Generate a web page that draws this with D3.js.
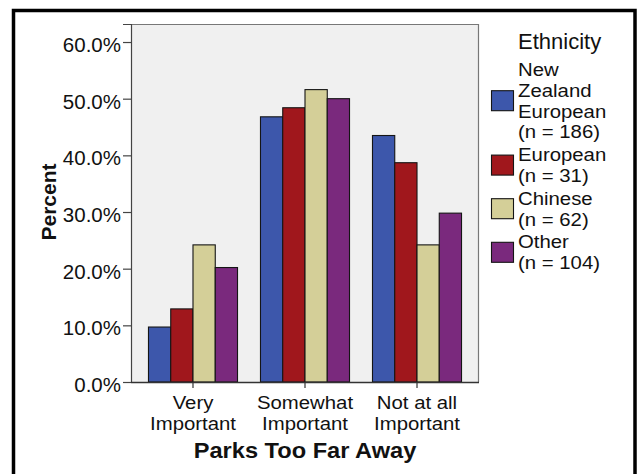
<!DOCTYPE html>
<html>
<head>
<meta charset="utf-8">
<script src="https://cdn.jsdelivr.net/npm/d3@7"></script>
<style>
  html, body { margin: 0; padding: 0; background: #fff; }
  svg { display: block; font-family: "Liberation Sans", Arial, sans-serif; }
</style>
</head>
<body>
<svg id="chart" width="641" height="474"></svg>
<script>
// ---- data ----
const categories = ["Very Important", "Somewhat Important", "Not at all Important"];
const categoryLines = [["Very", "Important"], ["Somewhat", "Important"], ["Not at all", "Important"]];
const ethnicities = ["New Zealand European (n = 186)", "European (n = 31)", "Chinese (n = 62)", "Other (n = 104)"];
const legendLines = [["New", "Zealand", "European", "(n = 186)"], ["European", "(n = 31)"], ["Chinese", "(n = 62)"], ["Other", "(n = 104)"]];
const nzEuropean = [9.7, 46.8, 43.5];
const european   = [12.9, 48.4, 38.7];
const chinese    = [24.2, 51.6, 24.2];
const other      = [20.2, 50.0, 29.8];
const seriesValues = [nzEuropean, european, chinese, other];
const yTicks = [0, 10, 20, 30, 40, 50, 60];
const colors = ["#3D57AB", "#A0171C", "#D4CF98", "#7A297D"];

// ---- layout ----
const svg = d3.select("#chart");
const plot = { left: 131, right: 479, top: 24, bottom: 382 };
const SX = 1.1;           // horizontal text widening
const lineFont = 18.5, lineH = 20.8;

svg.append("rect").attr("width", 641).attr("height", 474).attr("fill", "#fff");

// outer border
svg.append("rect")
  .attr("x", 13.5).attr("y", 10.5).attr("width", 621.5).attr("height", 500)
  .attr("fill", "none").attr("stroke", "#000").attr("stroke-width", 3.5);

const y = d3.scaleLinear().domain([0, 63.18]).range([plot.bottom, plot.top]);
const x = d3.scaleBand().domain(categories).range([plot.left, plot.right])
  .paddingInner(0.205).paddingOuter(0.156);
const xs = d3.scaleBand().domain(ethnicities).range([0, x.bandwidth()]).padding(0);

// plot background
svg.append("rect")
  .attr("x", plot.left).attr("y", plot.top)
  .attr("width", plot.right - plot.left).attr("height", plot.bottom - plot.top)
  .attr("fill", "#F0F0F0");
// top/right frame
svg.append("path")
  .attr("d", `M${plot.left},${plot.top + 0.5}H${plot.right - 0.5}V${plot.bottom}`)
  .attr("fill", "none").attr("stroke", "#777").attr("stroke-width", 1.2);

// bars
const groups = svg.append("g").selectAll("g").data(categories).join("g")
  .attr("transform", d => `translate(${x(d)},0)`);
groups.selectAll("rect")
  .data((c, ci) => ethnicities.map((e, ei) => ({ e, ei, v: seriesValues[ei][ci] })))
  .join("rect")
  .attr("x", d => xs(d.e))
  .attr("y", d => y(d.v))
  .attr("width", xs.bandwidth())
  .attr("height", d => y(0) - y(d.v))
  .attr("fill", d => colors[d.ei])
  .attr("stroke", "#151515").attr("stroke-width", 1.1);

// y axis
const yAxis = svg.append("g").attr("transform", `translate(${plot.left},0)`)
  .call(d3.axisLeft(y).tickValues(yTicks).tickSize(8).tickPadding(2)
    .tickFormat(d => d.toFixed(1) + "%"));
yAxis.select(".domain").attr("stroke", "#444").attr("stroke-width", 1.2);
yAxis.selectAll(".tick line").attr("stroke", "#444").attr("stroke-width", 1.2);
yAxis.selectAll(".tick text").attr("font-size", 20.5).attr("fill", "#111")
  .attr("dy", "0.46em").attr("font-family", "Liberation Sans, Arial, sans-serif");

// x axis
const xAxis = svg.append("g").attr("transform", `translate(0,${plot.bottom})`)
  .call(d3.axisBottom(x).tickSize(6).tickSizeOuter(0).tickFormat(""));
xAxis.select(".domain").attr("stroke", "#333").attr("stroke-width", 1.4)
  .attr("d", `M${plot.left},0.5H${plot.right}`);
xAxis.selectAll(".tick line").attr("stroke", "#333").attr("stroke-width", 1.2);
xAxis.selectAll(".tick").each(function (d, i) {
  const t = d3.select(this).append("text")
    .attr("transform", `scale(${SX},1)`)
    .attr("text-anchor", "middle").attr("fill", "#111").attr("font-size", lineFont)
    .attr("font-family", "Liberation Sans, Arial, sans-serif");
  categoryLines[i].forEach((ln, k) => {
    t.append("tspan").attr("x", 0).attr("y", 27.1 + k * lineH).text(ln);
  });
});

// axis titles
svg.append("text")
  .attr("transform", "translate(305,457.7) scale(1.05,1)")
  .attr("text-anchor", "middle")
  .attr("font-size", 22.5).attr("font-weight", "bold").attr("fill", "#111")
  .text("Parks Too Far Away");
svg.append("text")
  .attr("transform", "translate(56,202) rotate(-90)")
  .attr("text-anchor", "middle")
  .attr("font-size", 21).attr("font-weight", "bold").attr("fill", "#111")
  .text("Percent");

// legend
const legend = svg.append("g");
legend.append("text").attr("x", 518).attr("y", 49.3)
  .attr("font-size", 22).attr("fill", "#111").text("Ethnicity");
const itemGap = 2;
let base = 76;
ethnicities.forEach((e, i) => {
  const lines = legendLines[i];
  const last = base + (lines.length - 1) * lineH;
  const cy = (base + last) / 2 - 6.5;
  legend.append("rect")
    .attr("x", 491.5).attr("y", cy - 10).attr("width", 22).attr("height", 20)
    .attr("fill", colors[i]).attr("stroke", "#151515").attr("stroke-width", 1.1);
  const t = legend.append("text")
    .attr("transform", `translate(518,0) scale(${SX},1)`)
    .attr("font-size", lineFont).attr("fill", "#111");
  lines.forEach((ln, k) => {
    t.append("tspan").attr("x", 0).attr("y", base + k * lineH).text(ln);
  });
  base = last + lineH + itemGap;
});
</script>
</body>
</html>
